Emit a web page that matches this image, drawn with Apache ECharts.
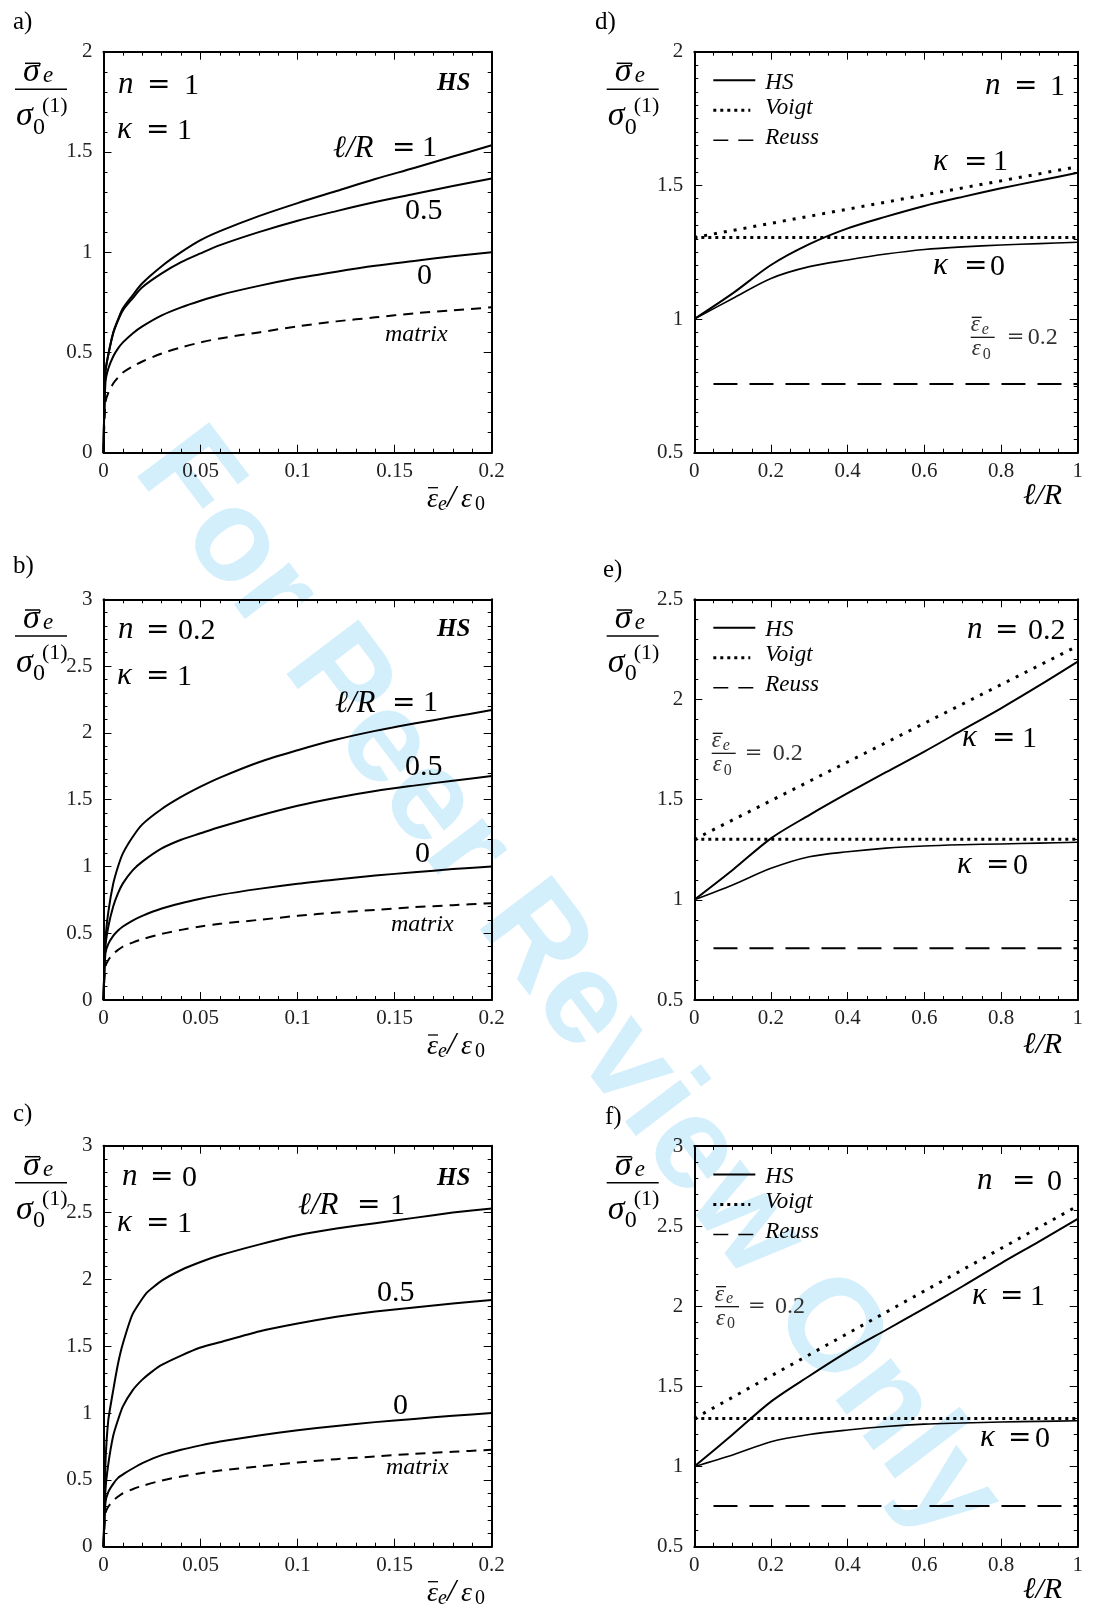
<!DOCTYPE html>
<html>
<head>
<meta charset="utf-8">
<script src="https://cdn.jsdelivr.net/npm/echarts@6/dist/echarts.min.js"></script>
<style>
  html, body { margin: 0; padding: 0; background: #fff; }
  #chart { width: 1107px; height: 1609px; }
</style>
</head>
<body>
<div id="chart"></div>
<script>
// ---------- data: effective stress vs. strain (panels a–c) ----------
const strain = [0, 0.001, 0.0025, 0.005, 0.0075, 0.01, 0.015, 0.02, 0.03, 0.04, 0.05, 0.06, 0.08, 0.1, 0.12, 0.14, 0.16, 0.18, 0.2];
const matrixStress = [0, 0.25, 0.30, 0.345, 0.375, 0.40, 0.43, 0.455, 0.495, 0.525, 0.55, 0.57, 0.60, 0.63, 0.655, 0.675, 0.695, 0.71, 0.725];

// n = 1
const hsN1L0  = [0, 0.35, 0.42, 0.48, 0.52, 0.55, 0.595, 0.63, 0.685, 0.725, 0.758, 0.787, 0.832, 0.871, 0.903, 0.932, 0.956, 0.98, 1.0];
const hsN1L05 = [0, 0.40, 0.49, 0.595, 0.66, 0.71, 0.77, 0.825, 0.894, 0.95, 0.994, 1.035, 1.10, 1.157, 1.205, 1.25, 1.29, 1.33, 1.368];
const hsN1L1  = [0, 0.40, 0.49, 0.60, 0.665, 0.72, 0.785, 0.845, 0.93, 1.0, 1.06, 1.105, 1.18, 1.245, 1.305, 1.365, 1.42, 1.477, 1.533];

// n = 0.2
const hsN02L0  = [0, 0.35, 0.42, 0.48, 0.52, 0.55, 0.595, 0.63, 0.685, 0.725, 0.758, 0.787, 0.832, 0.871, 0.903, 0.932, 0.956, 0.98, 1.0];
const hsN02L05 = [0, 0.40, 0.55, 0.70, 0.80, 0.873, 0.97, 1.036, 1.135, 1.20, 1.248, 1.295, 1.38, 1.455, 1.515, 1.565, 1.605, 1.642, 1.677];
const hsN02L1  = [0, 0.45, 0.66, 0.87, 1.0, 1.098, 1.22, 1.315, 1.43, 1.52, 1.597, 1.665, 1.78, 1.87, 1.95, 2.015, 2.07, 2.12, 2.171];

// n = 0 (curves show a sharp knee, so each has its own strain samples)
const strainN0L1  = [0, 0.001, 0.0025, 0.005, 0.0075, 0.01, 0.015, 0.022, 0.03, 0.04, 0.05, 0.06, 0.08, 0.1, 0.12, 0.14, 0.16, 0.18, 0.2];
const hsN0L1      = [0, 0.62, 0.95, 1.17, 1.37, 1.52, 1.74, 1.895, 1.99, 2.07, 2.13, 2.18, 2.26, 2.33, 2.38, 2.42, 2.46, 2.50, 2.53];
const strainN0L05 = [0, 0.001, 0.0025, 0.005, 0.0075, 0.01, 0.015, 0.02, 0.025, 0.03, 0.04, 0.05, 0.06, 0.08, 0.1, 0.12, 0.14, 0.16, 0.18, 0.2];
const hsN0L05     = [0, 0.42, 0.62, 0.83, 0.95, 1.05, 1.17, 1.25, 1.31, 1.36, 1.43, 1.49, 1.53, 1.61, 1.67, 1.72, 1.76, 1.79, 1.82, 1.845];
const strainN0L0  = [0, 0.001, 0.0025, 0.005, 0.0075, 0.011, 0.015, 0.02, 0.03, 0.04, 0.05, 0.06, 0.08, 0.1, 0.12, 0.14, 0.16, 0.18, 0.2];
const hsN0L0      = [0, 0.33, 0.41, 0.47, 0.515, 0.55, 0.585, 0.625, 0.685, 0.725, 0.758, 0.787, 0.832, 0.871, 0.903, 0.932, 0.956, 0.98, 1.0];

// ---------- data: stress at strain 0.2 vs. length ratio (panels d–f) ----------
const lengthRatio = [0, 0.1, 0.2, 0.3, 0.4, 0.5, 0.6, 0.7, 0.8, 0.9, 1.0];
const hsN1K1  = [1.0, 1.096, 1.202, 1.28, 1.339, 1.383, 1.423, 1.457, 1.489, 1.518, 1.547];
const hsN1K0  = [1.0, 1.077, 1.152, 1.196, 1.221, 1.243, 1.26, 1.27, 1.277, 1.282, 1.287];
const hsN02K1 = [1.0, 1.149, 1.307, 1.423, 1.532, 1.637, 1.74, 1.848, 1.956, 2.07, 2.189];
const hsN02K0 = [1.0, 1.074, 1.157, 1.215, 1.24, 1.258, 1.269, 1.275, 1.279, 1.283, 1.287];
const hsN0K1  = [1.0, 1.2, 1.405, 1.565, 1.717, 1.852, 1.987, 2.125, 2.268, 2.405, 2.545];
const hsN0K0  = [1.0, 1.072, 1.155, 1.20, 1.228, 1.25, 1.265, 1.272, 1.278, 1.282, 1.286];

// Voigt bounds are straight lines: [value at ℓ/R = 0, value at ℓ/R = 1]
const voigtEnds = [0, 1];
const voigtN1K1  = [1.305, 1.57];
const voigtN1K0  = [1.305, 1.305];
const voigtN02K1 = [1.302, 2.267];
const voigtN02K0 = [1.302, 1.302];
const voigtN0K1  = [1.30, 2.626];
const voigtN0K0  = [1.30, 1.30];
// Reuss bounds (constant)
const reussEnds = [0.05, 1];
const reussN1  = [0.757, 0.757];
const reussN02 = [0.758, 0.758];
const reussN0  = [0.754, 0.754];

// ---------- axis ticks ----------
const strainTicks = { min: 0, max: 0.2, interval: 0.05, minor: 5 };
const ratioTicks  = { min: 0, max: 1, interval: 0.2, minor: 4 };
const stressTicks = [
  { min: 0, max: 2, interval: 0.5, minor: 5 },     // a
  { min: 0, max: 3, interval: 0.5, minor: 5 },     // b
  { min: 0, max: 3, interval: 0.5, minor: 5 },     // c
  { min: 0.5, max: 2, interval: 0.5, minor: 10 },  // d
  { min: 0.5, max: 2.5, interval: 0.5, minor: 5 }, // e
  { min: 0.5, max: 3, interval: 0.5, minor: 5 }    // f
];

// ---------- layout ----------
const SERIF = '"Liberation Serif", "DejaVu Serif", serif';
const WIDE = '"DejaVu Serif", "Liberation Serif", serif';
const grids = [
  { left: 103.5, top: 51.7,   width: 388.2, height: 401 },
  { left: 103.5, top: 599.3,  width: 388.2, height: 400.7 },
  { left: 103.5, top: 1145.7, width: 388.2, height: 401 },
  { left: 694.3, top: 51.7,   width: 383.4, height: 401 },
  { left: 694.3, top: 599.3,  width: 383.4, height: 400.7 },
  { left: 694.3, top: 1146,   width: 383.4, height: 400.7 }
];

const fmt = v => String(+v.toFixed(3));

function axisPair(dim, gi, t) {
  const common = {
    type: 'value', gridIndex: gi, min: t.min, max: t.max, interval: t.interval,
    axisLine: { show: true, onZero: false, lineStyle: { color: '#000', width: 2 } },
    axisTick: { show: true, inside: true, length: 8, lineStyle: { color: '#000', width: 1 } },
    minorTick: { show: true, splitNumber: t.minor, length: 4, lineStyle: { color: '#000', width: 1 } },
    splitLine: { show: false },
    minorSplitLine: { show: false }
  };
  const main = Object.assign({}, common, {
    position: dim === 'x' ? 'bottom' : 'left',
    axisLabel: { show: true, color: '#222', fontFamily: 'Liberation Serif', fontSize: 21,
                 margin: dim === 'x' ? 8 : 11, formatter: fmt }
  });
  const mirror = Object.assign({}, common, {
    position: dim === 'x' ? 'top' : 'right',
    axisLabel: { show: false }
  });
  return [main, mirror];
}

const xAxes = [], yAxes = [];
grids.forEach((g, i) => {
  xAxes.push(...axisPair('x', i, i < 3 ? strainTicks : ratioTicks));
  yAxes.push(...axisPair('y', i, stressTicks[i]));
});

function curve(panel, xs, ys, style) {
  return {
    type: 'line', xAxisIndex: panel * 2, yAxisIndex: panel * 2,
    data: xs.map((x, i) => [x, ys[i]]),
    showSymbol: false, symbol: 'none', silent: true, clip: true,
    smooth: style.smooth || false,
    lineStyle: { color: '#000', width: style.width || 2, type: style.type || 'solid',
                 cap: 'butt', join: 'round' },
    z: 3
  };
}
const DASH_MATRIX = [10, 7];
const DOT_FLAT = [3, 4];
const DOT_SLOPE = [3, 7];
const DASH_REUSS = [24, 12];
const SM = 0.3;

const series = [
  // a) n = 1
  curve(0, strain, matrixStress, { type: DASH_MATRIX, smooth: SM }),
  curve(0, strain, hsN1L0, { smooth: SM }),
  curve(0, strain, hsN1L05, { smooth: SM }),
  curve(0, strain, hsN1L1, { smooth: SM }),
  // b) n = 0.2
  curve(1, strain, matrixStress, { type: DASH_MATRIX, smooth: SM }),
  curve(1, strain, hsN02L0, { smooth: SM }),
  curve(1, strain, hsN02L05, { smooth: SM }),
  curve(1, strain, hsN02L1, { smooth: SM }),
  // c) n = 0
  curve(2, strain, matrixStress, { type: DASH_MATRIX, smooth: SM }),
  curve(2, strainN0L0, hsN0L0, { smooth: 0.15 }),
  curve(2, strainN0L05, hsN0L05, { smooth: 0.15 }),
  curve(2, strainN0L1, hsN0L1, { smooth: 0.15 }),
  // d) n = 1
  curve(3, lengthRatio, hsN1K1, { smooth: SM }),
  curve(3, lengthRatio, hsN1K0, { width: 1.6, smooth: SM }),
  curve(3, voigtEnds, voigtN1K1, { type: DOT_SLOPE, width: 3 }),
  curve(3, voigtEnds, voigtN1K0, { type: DOT_FLAT, width: 3 }),
  curve(3, reussEnds, reussN1, { type: DASH_REUSS }),
  // e) n = 0.2
  curve(4, lengthRatio, hsN02K1, { smooth: SM }),
  curve(4, lengthRatio, hsN02K0, { width: 1.6, smooth: SM }),
  curve(4, voigtEnds, voigtN02K1, { type: DOT_SLOPE, width: 3 }),
  curve(4, voigtEnds, voigtN02K0, { type: DOT_FLAT, width: 3 }),
  curve(4, reussEnds, reussN02, { type: DASH_REUSS }),
  // f) n = 0
  curve(5, lengthRatio, hsN0K1, { smooth: SM }),
  curve(5, lengthRatio, hsN0K0, { width: 1.6, smooth: SM }),
  curve(5, voigtEnds, voigtN0K1, { type: DOT_SLOPE, width: 3 }),
  curve(5, voigtEnds, voigtN0K0, { type: DOT_FLAT, width: 3 }),
  curve(5, reussEnds, reussN0, { type: DASH_REUSS })
];

// ---------- text and annotation helpers ----------
function txt(x, y, text, size, italic, color, family, weight) {
  return {
    type: 'text', x: x, y: y, z: 20, silent: true,
    style: {
      text: text, fill: color || '#000',
      font: (italic ? 'italic ' : '') + (weight ? weight + ' ' : '') + size + 'px ' + (family || SERIF),
      align: 'left', verticalAlign: 'middle',
      textAlign: 'left', textVerticalAlign: 'middle'
    }
  };
}
function seg(x1, y1, x2, y2, w, dash) {
  return {
    type: 'line', z: 20, silent: true,
    shape: { x1: x1, y1: y1, x2: x2, y2: y2 },
    style: { stroke: '#000', lineWidth: w, lineDash: dash || null, lineCap: 'butt' }
  };
}
// σ̄e / σ0^(1) stacked fraction; (bx, by) = left end of the fraction bar
function stressName(bx, by) {
  return [
    seg(bx + 10, by - 26, bx + 25, by - 26, 1.5),
    txt(bx + 8, by - 17, 'σ', 34, true),
    txt(bx + 28, by - 13, 'e', 23, true),
    seg(bx, by, bx + 52, by, 1.5),
    txt(bx + 1, by + 27, 'σ', 34, true),
    txt(bx + 18, by + 38, '0', 24),
    txt(bx + 27, by + 17, '(1)', 22)
  ];
}
// ε̄e/ε0 inline axis name
function strainName(x0, yc) {
  return [
    seg(x0 + 1, yc - 13, x0 + 11, yc - 13, 1.3),
    txt(x0, yc - 1, 'ε', 28, true),
    txt(x0 + 11, yc + 4, 'e', 20, true),
    txt(x0 + 20, yc - 2, '/', 32, true),
    txt(x0 + 34, yc - 1, 'ε', 28, true),
    txt(x0 + 48, yc + 4, '0', 20)
  ];
}
// stacked ε̄e/ε0 = 0.2 note inside the right-hand panels
function strainNote(fx, by, eqDx, valDx) {
  const c = '#333';
  return [
    seg(fx + 1, by - 20, fx + 11, by - 20, 1.2),
    txt(fx, by - 12, 'ε', 23, true, c),
    txt(fx + 11, by - 8, 'e', 16, true, c),
    seg(fx, by, fx + 24, by, 1.2),
    txt(fx + 1, by + 12, 'ε', 23, true, c),
    txt(fx + 12, by + 17, '0', 16, false, c),
    txt(fx + eqDx, by, '=', 21, false, c, WIDE),
    txt(fx + valDx, by, '0.2', 24, false, c)
  ];
}
// "symbol = value" label with wide math spacing
function eqn(x, yc, sym, val, eqDx, valDx) {
  return [
    txt(x, yc - 1, sym, 31, true),
    txt(x + eqDx, yc, '=', 28, false, '#000', WIDE),
    txt(x + valDx, yc, val, 30)
  ];
}
function legendBlock(px, py) {
  return [
    seg(px + 19, py + 28.5, px + 61, py + 28.5, 2),
    txt(px + 71, py + 31, 'HS', 23, true),
    seg(px + 19, py + 58.5, px + 56, py + 58.5, 3, [3, 4]),
    txt(px + 71, py + 56, 'Voigt', 23, true),
    seg(px + 19, py + 88.5, px + 59, py + 88.5, 1.5, [15, 10]),
    txt(px + 71, py + 86, 'Reuss', 23, true)
  ];
}

const graphics = [];
// review watermark, behind everything
graphics.push({
  type: 'text', x: 567, y: 985, rotation: -52.9 * Math.PI / 180, z: -10, silent: true,
  style: {
    text: 'For Peer Review Only', fill: '#d3effc',
    font: 'bold 131px "Liberation Sans", Arial, sans-serif',
    align: 'center', verticalAlign: 'middle', textAlign: 'center', textVerticalAlign: 'middle'
  }
});

// panel letters
[['a)', 13, 22.5], ['b)', 13, 566], ['c)', 13, 1114],
 ['d)', 595, 22.5], ['e)', 603, 570], ['f)', 605, 1117]].forEach(p => {
  graphics.push(txt(p[1], p[2], p[0], 25));
});

// y-axis names
[[15, 89.3], [15, 636], [15, 1182.7], [606.7, 89.3], [606.7, 636], [606.7, 1182.7]]
  .forEach(p => graphics.push(...stressName(p[0], p[1])));

// x-axis names
[500.7, 1048, 1594.7].forEach(y => graphics.push(...strainName(427, y)));
[496, 1045, 1590].forEach(y => graphics.push(txt(1023, y, 'ℓ/R', 30, true)));

// panel a
graphics.push(...eqn(118, 86, 'n', '1', 29, 66));
graphics.push(...eqn(117, 131, 'κ', '1', 29, 60));
graphics.push(txt(437, 83.5, 'HS', 25, true, '#000', SERIF, 'bold'));
graphics.push(txt(333, 148.5, 'ℓ/R', 31, true), txt(392, 148.5, '=', 28, false, '#000', WIDE), txt(422, 148.5, '1', 30));
graphics.push(txt(405, 211, '0.5', 30), txt(417, 276, '0', 30));
graphics.push(txt(385, 335, 'matrix', 24, true));

// panel b
graphics.push(...eqn(118, 631, 'n', '0.2', 28, 60));
graphics.push(...eqn(117, 677, 'κ', '1', 29, 60));
graphics.push(txt(437, 630, 'HS', 25, true, '#000', SERIF, 'bold'));
graphics.push(txt(335, 703.5, 'ℓ/R', 31, true), txt(392, 703.5, '=', 28, false, '#000', WIDE), txt(423, 703.5, '1', 30));
graphics.push(txt(405, 767, '0.5', 30), txt(415, 854, '0', 30));
graphics.push(txt(391, 925, 'matrix', 24, true));

// panel c
graphics.push(...eqn(122, 1178, 'n', '0', 28, 60));
graphics.push(...eqn(117, 1224, 'κ', '1', 29, 60));
graphics.push(txt(437, 1178.5, 'HS', 25, true, '#000', SERIF, 'bold'));
graphics.push(txt(298, 1206, 'ℓ/R', 31, true), txt(357, 1206, '=', 28, false, '#000', WIDE), txt(390, 1206, '1', 30));
graphics.push(txt(377, 1293, '0.5', 30), txt(393, 1406, '0', 30));
graphics.push(txt(386, 1468, 'matrix', 24, true));

// panel d
graphics.push(...legendBlock(694.3, 51.7));
graphics.push(...eqn(985, 87, 'n', '1', 29, 65));
graphics.push(...eqn(933, 162.5, 'κ', '1', 31, 60));
graphics.push(...eqn(933, 267, 'κ', '0', 31, 57));
graphics.push(...strainNote(970.7, 337.3, 36, 57));

// panel e
graphics.push(...legendBlock(694.3, 599.3));
graphics.push(...eqn(967, 631, 'n', '0.2', 28, 61));
graphics.push(...eqn(962, 739, 'κ', '1', 30, 60));
graphics.push(...eqn(957, 866, 'κ', '0', 29, 56));
graphics.push(...strainNote(711.7, 753.3, 33, 61));

// panel f
graphics.push(...legendBlock(694.3, 1146));
graphics.push(...eqn(977, 1182, 'n', '0', 35, 70));
graphics.push(...eqn(972, 1297, 'κ', '1', 28, 58));
graphics.push(...eqn(980, 1439, 'κ', '0', 28, 55));
graphics.push(...strainNote(715, 1306.7, 33, 60));

const chart = echarts.init(document.getElementById('chart'), null, { renderer: 'canvas' });
chart.setOption({
  animation: false,
  backgroundColor: '#fff',
  grid: grids.map(g => Object.assign({ containLabel: false, outerBoundsMode: 'none' }, g)),
  xAxis: xAxes,
  yAxis: yAxes,
  series: series,
  graphic: { elements: graphics }
});
</script>
</body>
</html>
